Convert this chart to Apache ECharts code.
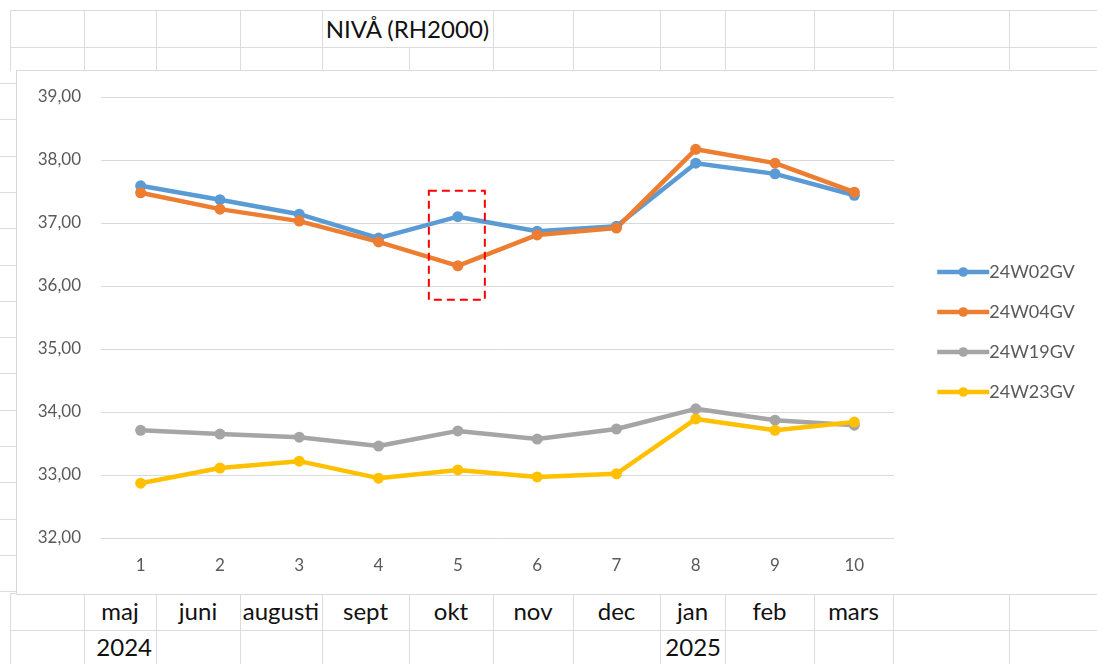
<!DOCTYPE html>
<html>
<head>
<meta charset="utf-8">
<script src="https://cdn.jsdelivr.net/npm/echarts@6/dist/echarts.min.js"></script>
<style>
    html, body {
        margin: 0;
        padding: 0;
        background: #fff;
        width: 1097px;
        height: 664px;
        overflow: hidden;
        font-family: Lato, 'Open Sans', sans-serif;
    }
    .hl, .vl {
        position: absolute;
        background: #dcdcdc;
    }
    .cell {
        position: absolute;
        font-size: 24px;
        color: #111;
        line-height: 36px;
        white-space: nowrap;
    }
    #chart {
        position: absolute;
        left: 16px;
        top: 70px;
        width: 1100px;
        height: 523px;
        background: #fff;
        border-left: 1px solid #d9d9d9;
        border-top: 1px solid #d9d9d9;
        border-bottom: 1px solid #d9d9d9;
    }
</style>
</head>
<body>
<div id="sheet"></div>
<div id="chart"></div>
<script>
// 数据
const categories = ['1', '2', '3', '4', '5', '6', '7', '8', '9', '10']
const months = ['maj', 'juni', 'augusti', 'sept', 'okt', 'nov', 'dec', 'jan', 'feb', 'mars']
const years = ['2024', '', '', '', '', '', '', '2025', '', '']
const title = 'NIVÅ (RH2000)'

const w02 = [37.59, 37.37, 37.14, 36.76, 37.10, 36.87, 36.95, 37.95, 37.78, 37.44]
const w04 = [37.48, 37.22, 37.03, 36.70, 36.32, 36.81, 36.92, 38.17, 37.95, 37.49]
const w19 = [33.71, 33.65, 33.60, 33.46, 33.70, 33.57, 33.73, 34.05, 33.87, 33.79]
const w23 = [32.87, 33.11, 33.22, 32.95, 33.08, 32.97, 33.02, 33.89, 33.71, 33.84]

// markerad ruta runt okt
const boxCategory = '5'
const boxRange = [35.78, 37.51]

// kalkylbladets rutnät
const colX = [84, 156, 240, 322, 409, 493, 573, 660, 725, 814, 893, 1009]
const sheet = document.getElementById('sheet')

const addLine = (cls, left, top, width, height) => {
    const d = document.createElement('div')
    d.className = cls
    d.style.left = left + 'px'
    d.style.top = top + 'px'
    d.style.width = width + 'px'
    d.style.height = height + 'px'
    sheet.appendChild(d)
}

const addText = (text, left, top, width, align) => {
    const d = document.createElement('div')
    d.className = 'cell'
    d.textContent = text
    d.style.left = left + 'px'
    d.style.top = top + 'px'
    d.style.width = width + 'px'
    d.style.textAlign = align
    sheet.appendChild(d)
}

// övre rader
addLine('hl', 10, 10, 1087, 1)
addLine('hl', 10, 47, 1087, 1)
colX.forEach(x => {
    if (x !== 409) addLine('vl', x, 10, 1, 37)
    addLine('vl', x, 47, 1, 24)
})
addLine('vl', 10, 10, 1, 61)
addText(title, 322, 11, 171, 'center')

// undre rader
addLine('hl', 10, 593, 1087, 1)
addLine('hl', 10, 630, 1087, 1)
colX.forEach(x => addLine('vl', x, 594, 1, 70))
addLine('vl', 10, 594, 1, 70)
months.forEach((m, i) => {
    addText(m, colX[i], 593, colX[i + 1] - colX[i], 'center')
})
years.forEach((y, i) => {
    if (y) addText(y, colX[i], 629, colX[i + 1] - colX[i] - 4, 'right')
})

// vänsterkant radlinjer
for (let y = 83; y < 593; y += 36.3) {
    addLine('hl', 0, Math.round(y), 16, 1)
}

const chart = echarts.init(document.getElementById('chart'))

const makeSeries = (name, data, color) => ({
    name: name,
    type: 'line',
    data: data,
    symbol: 'circle',
    symbolSize: 11,
    itemStyle: { color: color },
    lineStyle: { color: color, width: 4.5 },
    z: 3
})

const option = {
    animation: false,
    textStyle: { fontFamily: 'Lato, "Open Sans", sans-serif' },
    grid: {
        left: 84,
        top: 26,
        width: 793,
        height: 441
    },
    legend: {
        orient: 'vertical',
        left: 913,
        top: 187,
        itemWidth: 52,
        itemHeight: 12,
        itemGap: 22,
        itemStyle: { borderWidth: 0 },
        lineStyle: { width: 4.5 },
        textStyle: { color: '#595959', fontSize: 18, padding: [0, 0, 0, -5] },
        data: ['24W02GV', '24W04GV', '24W19GV', '24W23GV']
    },
    xAxis: {
        type: 'category',
        data: categories,
        boundaryGap: true,
        axisLine: { show: false },
        axisTick: { show: false },
        axisLabel: { color: '#595959', fontSize: 17, margin: 19 }
    },
    yAxis: {
        type: 'value',
        min: 32,
        max: 39,
        interval: 1,
        axisLine: { show: false },
        axisTick: { show: false },
        splitLine: { lineStyle: { color: '#d9d9d9', width: 1 } },
        axisLabel: {
            color: '#595959',
            fontSize: 17,
            margin: 20,
            formatter: v => v.toFixed(2).replace('.', ',')
        }
    },
    series: [
        makeSeries('24W02GV', w02, '#5B9BD5'),
        makeSeries('24W04GV', w04, '#ED7D31'),
        makeSeries('24W19GV', w19, '#A5A5A5'),
        makeSeries('24W23GV', w23, '#FFC000')
    ]
}

chart.setOption(option)

// röd streckad ruta
const p1 = chart.convertToPixel({ xAxisIndex: 0, yAxisIndex: 0 }, [boxCategory, boxRange[1]])
const p2 = chart.convertToPixel({ xAxisIndex: 0, yAxisIndex: 0 }, [boxCategory, boxRange[0]])
chart.setOption({
    graphic: [{
        type: 'rect',
        z: 10,
        shape: { x: p1[0] - 29, y: p1[1], width: 56, height: p2[1] - p1[1] },
        style: { fill: 'none', stroke: '#FF0000', lineWidth: 2, lineDash: [8, 5] }
    }]
})
</script>
</body>
</html>
